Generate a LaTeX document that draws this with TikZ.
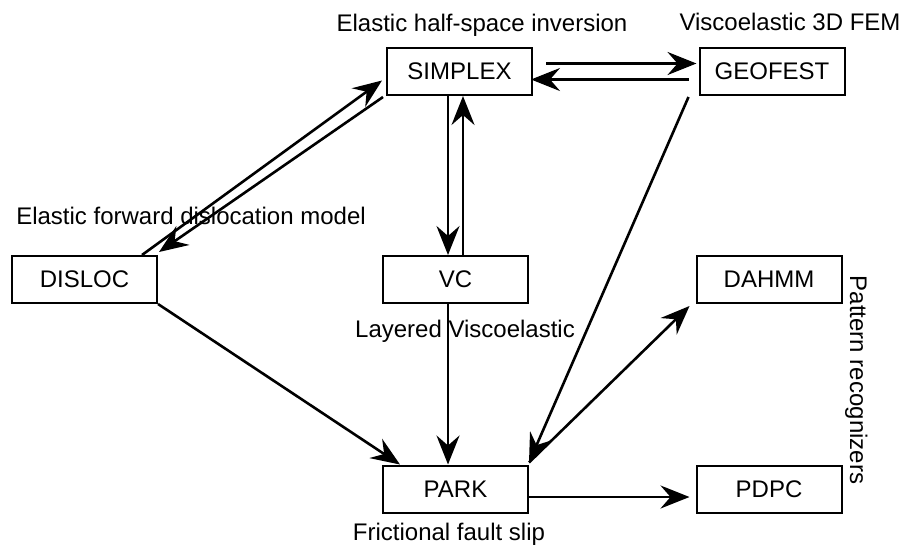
\documentclass[tikz,border=0pt]{standalone}
\usepackage{fontspec}
\setmainfont{Liberation Sans}
\usetikzlibrary{arrows.meta}
\begin{document}
\begin{tikzpicture}[x=1pt,y=-1pt,
 box/.style={draw,line width=2pt,minimum width=145pt,minimum height=47pt,inner sep=0pt,font=\fontsize{24}{28}\selectfont},
 lbl/.style={font=\fontsize{24}{28}\selectfont,inner sep=0pt,anchor=base},
 arr/.style={line width=2.6pt,-{Stealth[length=29pt,width=23pt,inset=10pt]}}]
\useasboundingbox (0,0) rectangle (901,549);
% boxes
\node[box] (S) at (459.5,71.5) {SIMPLEX};
\node[box] (G) at (772,71.5) {GEOFEST};
\node[box] (D) at (84.5,279.5) {DISLOC};
\node[box] (V) at (455.5,279.5) {VC};
\node[box] (H) at (769,279.5) {DAHMM};
\node[box] (P) at (455.5,489) {PARK};
\node[box] (C) at (769,489) {PDPC};
% labels
\node[lbl] (l1) at (482,31) {Elastic half-space inversion};
\node[lbl] (l2) at (790,30) {Viscoelastic 3D FEM};
\node[lbl] (l3) at (191,224) {Elastic forward dislocation model};
\node[lbl] (l4) at (465,337) {Layered Viscoelastic};
\node[lbl] (l5) at (449,540) {Frictional fault slip};
\node[lbl,rotate=-90] (l6) at (850,380) {Pattern recognizers};
% connectors
\draw[arr] ([yshift=8pt,xshift=13pt]S.east) -- ([yshift=8pt,xshift=-2pt]G.west);
\draw[arr] ([yshift=-8pt,xshift=-10pt]G.west) -- ([yshift=-8pt,xshift=-2pt]S.east);
\draw[arr] ([xshift=-11.5pt]S.south) -- ([xshift=-7.5pt]V.north);
\draw[arr] ([xshift=7.5pt]V.north) -- ([xshift=3.5pt]S.south);
\draw[arr] ([xshift=57.5pt]D.north) -- ([xshift=-4pt,yshift=-9pt]S.west);
\draw[arr] ([xshift=-3pt,yshift=-1pt]S.south west) -- ([xshift=1pt,yshift=3pt]D.north east);
\draw[arr] (D.south east) -- ([xshift=-55.5pt]P.north);
\draw[arr] ([xshift=-7.5pt]V.south) -- ([xshift=-7.5pt]P.north);
\draw[arr] ([xshift=-10pt,yshift=-1pt]G.south west) -- ([yshift=2pt]P.north east);
\draw[arr] ([yshift=2pt]P.north east) -- ([xshift=-6pt,yshift=-2pt]H.south west);
\draw[arr] ([yshift=-8pt]P.east) -- ([yshift=-8pt,xshift=-6pt]C.west);
\end{tikzpicture}
\end{document}
